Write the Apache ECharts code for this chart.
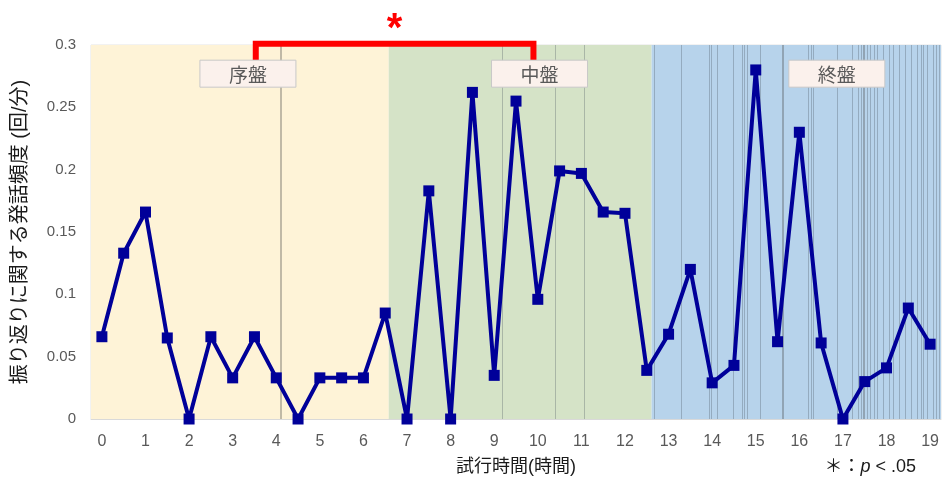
<!DOCTYPE html>
<html><head><meta charset="utf-8">
<script src="https://cdn.jsdelivr.net/npm/echarts@6/dist/echarts.min.js"></script>
<style>html,body{margin:0;padding:0;background:#fff}#c{width:942px;height:481px}</style>
</head><body><div id="c"></div>
<script>
// ---- data ----
const times = [0,0.5,1,1.5,2,2.5,3,3.5,4,4.5,5,5.5,6,6.5,7,7.5,8,8.5,9,9.5,10,10.5,11,11.5,12,12.5,13,13.5,14,14.5,15,15.5,16,16.5,17,17.5,18,18.5,19];
const freq = [0.066,0.133,0.166,0.065,0,0.066,0.033,0.066,0.033,0,0.033,0.033,0.033,0.085,0,0.183,0,0.262,0.035,0.255,0.096,0.199,0.197,0.166,0.165,0.039,0.068,0.120,0.029,0.043,0.280,0.062,0.230,0.061,0,0.030,0.041,0.089,0.060];
const phaseNames = ['序盤','中盤','終盤'];
const phaseBounds = [-0.25, 6.58, 12.61, 19.25];
const phaseColors = ['#FEF3D7','#D5E3C7','#B7D3EB'];
const phaseLabelX = [3.35, 10.04, 16.86];
const phaseLabelY = 0.277;
const eventsLight = [9.19,10.41,11.07,12.66,13.30,13.94,13.99,14.11,14.48,14.70,14.74,14.81,15.10,16.20,16.27,16.32,16.86,17.21,17.36,17.43,17.56,17.63,17.72,17.79,17.93,18.07,18.16,18.30,18.42,18.57,18.71,18.80,18.85,18.94,19.08,19.14,19.21];
const eventsDark = [4.10, 15.63, 17.47];
const bracketX = [3.53, 9.90];
const bracketY = [0.288, 0.301];
const yMin = 0, yMax = 0.3, yStep = 0.05;

const FONT = '"Liberation Sans", "Noto Sans CJK JP", sans-serif';
const chart = echarts.init(document.getElementById('c'), null, {renderer:'canvas'});

const bands = phaseNames.map((n,i)=>[{xAxis:phaseBounds[i], itemStyle:{color:phaseColors[i]}},{xAxis:phaseBounds[i+1]}]);
const lines = eventsLight.map(v=>({xAxis:v, lineStyle:{color:'rgba(70,80,90,0.3)', width:1, type:'solid'}}))
  .concat(eventsDark.map(v=>({xAxis:v, lineStyle:{color:'rgba(70,70,70,0.45)', width:1.5, type:'solid'}})));

chart.setOption({
  animation:false,
  grid:{left:91, right:0, top:45, bottom:60, show:true, borderColor:'#E4E4E4', borderWidth:1, backgroundColor:'#fff'},
  xAxis:[{
    type:'category', data:times.map(String), boundaryGap:true,
    axisLine:{show:true, lineStyle:{color:'#D9D9D9', width:1}},
    axisTick:{show:false},
    axisLabel:{interval:1, color:'#595959', fontSize:16, margin:15, fontFamily:FONT},
    name:'試行時間(時間)', nameLocation:'middle', nameGap:39,
    nameTextStyle:{color:'#1a1a1a', fontSize:18, fontFamily:FONT},
    splitLine:{show:false}, z:5
  },{
    type:'value', min:phaseBounds[0], max:phaseBounds[3], show:false
  }],
  yAxis:{
    type:'value', min:yMin, max:yMax, interval:yStep,
    axisLine:{show:false}, axisTick:{show:false}, splitLine:{show:false},
    axisLabel:{color:'#595959', fontSize:15, margin:15, fontFamily:FONT},
    name:'振り返りに関する発話頻度 (回/分)', nameLocation:'middle', nameRotate:90, nameGap:61,
    nameTextStyle:{color:'#1a1a1a', fontSize:20, fontFamily:FONT}
  },
  series:[
    {
      type:'line', xAxisIndex:1, yAxisIndex:0, data:[], z:0, silent:true, symbol:'none',
      markArea:{silent:true, data:bands},
      markLine:{silent:true, symbol:['none','none'], label:{show:false}, lineStyle:{type:'solid'}, data:lines}
    },
    {
      type:'line', xAxisIndex:0, yAxisIndex:0, data:freq, z:10,
      symbol:'rect', symbolSize:11, showAllSymbol:true,
      lineStyle:{color:'#000099', width:4},
      itemStyle:{color:'#000099'}
    },
    {
      type:'line', xAxisIndex:1, yAxisIndex:0, z:12, clip:false, symbol:'none',
      data:[[bracketX[0],bracketY[0]],[bracketX[0],bracketY[1]],[bracketX[1],bracketY[1]],[bracketX[1],bracketY[0]]],
      lineStyle:{color:'#FF0000', width:6, join:'miter', cap:'butt'}
    }
  ]
});

const graphics = [];
phaseNames.forEach((n,i)=>{
  const p = chart.convertToPixel({xAxisIndex:1, yAxisIndex:0}, [phaseLabelX[i], phaseLabelY]);
  graphics.push({type:'rect', z:100, shape:{x:p[0]-48, y:p[1]-13.5, width:96, height:27}, style:{fill:'#FBF1EC', stroke:'#C8C8C8', lineWidth:1}});
  graphics.push({type:'text', z:101, x:p[0], y:p[1]+1, style:{text:n, align:'center', verticalAlign:'middle', fill:'#595959', font:'19px "Noto Sans CJK JP", sans-serif'}});
});
const mid = chart.convertToPixel({xAxisIndex:1, yAxisIndex:0}, [(bracketX[0]+bracketX[1])/2, bracketY[1]]);
graphics.push({type:'text', x:mid[0], y:mid[1]-14, z:20, style:{text:'*', align:'center', verticalAlign:'middle', fill:'#FF0000', font:'bold 40px "Liberation Sans", sans-serif'}});
graphics.push({type:'text', right:26, top:458, z:20, style:{
  text:'＊：{i|p} < .05', fill:'#1a1a1a', font:'18px "Liberation Sans", "Noto Sans CJK JP", sans-serif',
  rich:{i:{fontStyle:'italic', fontSize:18, fontFamily:'"Liberation Sans", sans-serif', fill:'#1a1a1a'}}
}});
chart.setOption({graphic:{elements:graphics}});
</script>
</body></html>
